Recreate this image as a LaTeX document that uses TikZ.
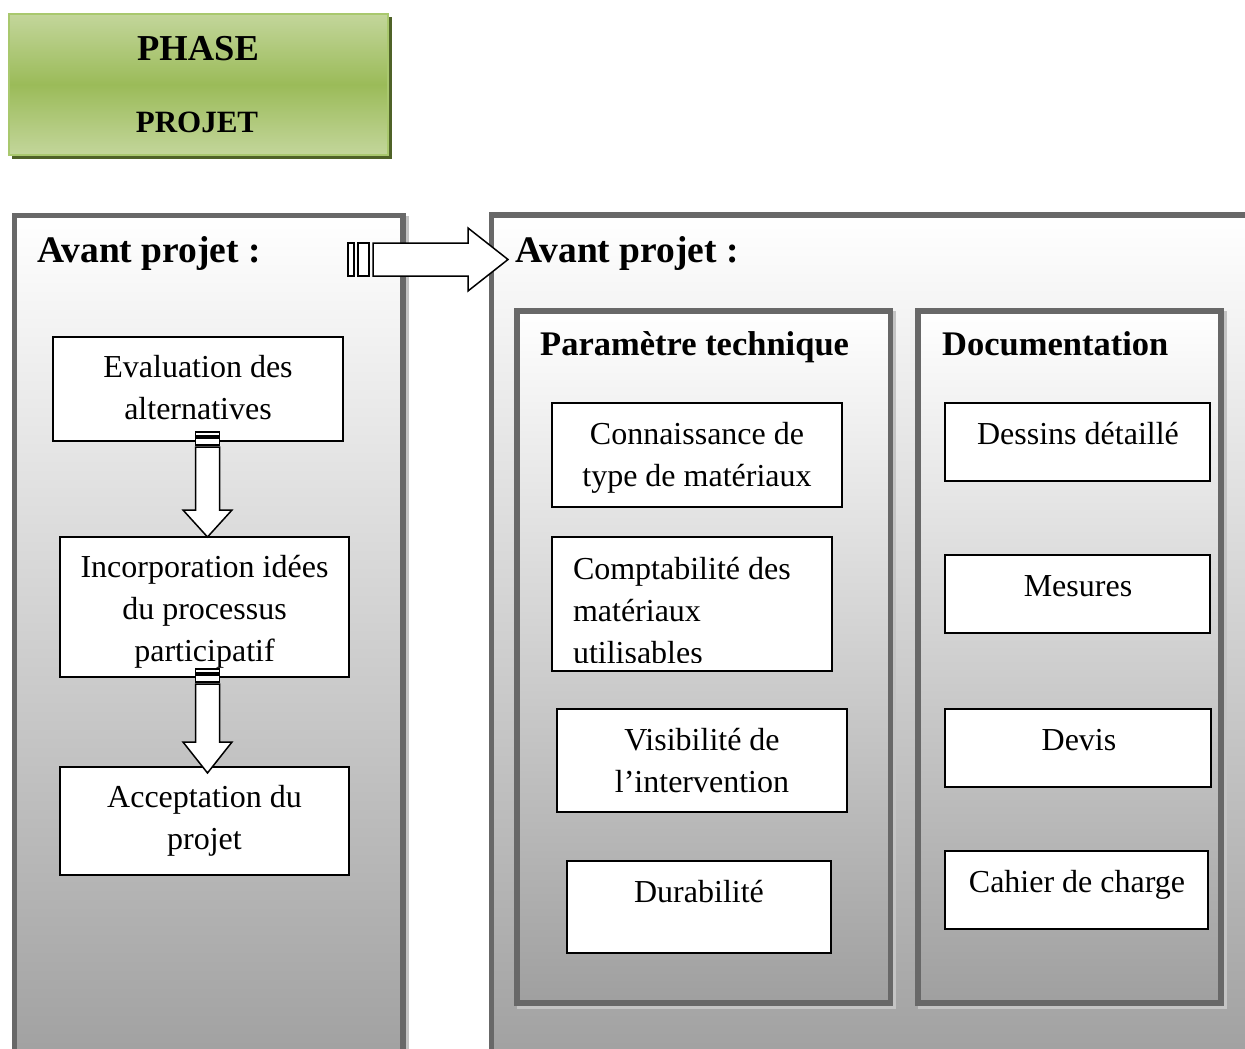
\documentclass[tikz,border=0pt]{standalone}
\usepackage{fontspec}
\setmainfont{Liberation Serif}
\usetikzlibrary{calc}
\newcommand\bodyfnt{\fontsize{32}{42}\selectfont}
\newcommand\headfnt{\fontsize{37.5}{44}\selectfont\bfseries}
\newcommand\phasefnt{\fontsize{36.5}{44}\selectfont\bfseries}
\newcommand\subfnt{\fontsize{34.5}{42}\selectfont\bfseries}
\definecolor{panelborder}{HTML}{686868}
\definecolor{panelshadow}{HTML}{C4C4C4}
\definecolor{greentop}{HTML}{C3D69B}
\definecolor{greenmid}{HTML}{9BBB59}
\definecolor{greenline}{HTML}{A9C86E}
\definecolor{greenshadow}{HTML}{4F6228}
\tikzset{
  boxnode/.style={draw=black, fill=white, line width=1.8pt, inner sep=0pt, outer sep=0pt},
  txt/.style={inner sep=0pt, outer sep=0pt, font=\bodyfnt, align=center},
  blockarrow/.style={draw=black, fill=white, line width=1.5pt, line join=miter},
  stripe/.style={draw=black, fill=white, line width=1.1pt},
  panelline/.style={draw=panelborder, line width=5.5pt},
  panelshade/.style={top color=white, bottom color=gray!75},
  panelshad/.style={draw=panelshadow, line width=5.5pt}
}
\newcommand\vstrarrow[3]{%
  \draw[stripe] ($(#1)+(-12,0)$) rectangle ($(#1)+(12,4)$);
  \draw[stripe] ($(#1)+(-12,6)$) rectangle ($(#1)+(12,13)$);
  \draw[blockarrow] ($(#1)+(-12,15)$) -- ($(#2)+(-12,-#3)$) -- ($(#2)+(-24.5,-#3)$) -- (#2)
     -- ($(#2)+(24.5,-#3)$) -- ($(#2)+(12,-#3)$) -- ($(#1)+(12,15)$) -- cycle;}
\begin{document}
\begin{tikzpicture}[x=1pt,y=-1pt]
\useasboundingbox (0,0) rectangle (1245,1049);
\clip (0,0) rectangle (1245,1049);
\fill[white] (0,0) rectangle (1245,1049);

% green title box
\fill[greenshadow] (12,17) rectangle (391.5,158.5);
\shade[top color=greentop, bottom color=greentop, middle color=greenmid] (9,14) rectangle (388,155);
\draw[greenline, line width=2pt] (9,14) rectangle (388,155);
\node[inner sep=0pt, anchor=base, font=\phasefnt] (phase) at (198,61) {PHASE};
\node[inner sep=0pt, anchor=base, font=\fontsize{31}{38}\selectfont\bfseries] (projet) at (197,132) {PROJET};

% outer panels
\draw[panelshad] (17.5,218.5) rectangle (406,1080);
\shade[panelshade] (14.5,215.5) rectangle (403,1070);
\draw[panelline] (14.5,215.5) rectangle (403,1070);
\draw[panelshad] (494.5,218) rectangle (1310,1080);
\shade[panelshade] (491.5,215) rectangle (1300,1070);
\draw[panelline] (491.5,215) rectangle (1300,1070);

% inner panels
\draw[panelshad] (520,314) rectangle (893.5,1006);
\shade[panelshade] (517,311) rectangle (890.5,1003);
\draw[panelline] (517,311) rectangle (890.5,1003);
\draw[panelshad] (921,314) rectangle (1224,1006);
\shade[panelshade] (918,311) rectangle (1221,1003);
\draw[panelline] (918,311) rectangle (1221,1003);

% headings
\node[inner sep=0pt, anchor=base west, font=\headfnt] (hleft) at (37,262) {Avant projet :};
\node[inner sep=0pt, anchor=base west, font=\headfnt] (hright) at (515,262) {Avant projet :};
\node[inner sep=0pt, anchor=base west, font=\subfnt] (hparam) at (540,355) {Paramètre technique};
\node[inner sep=0pt, anchor=base west, font=\subfnt] (hdoc) at (942,355) {Documentation};

% boxes left
\node[boxnode, minimum width=290, minimum height=104] (eval) at (198,389) {};
\node[boxnode, minimum width=289, minimum height=140] (inc) at (204.5,607) {};
\node[boxnode, minimum width=289, minimum height=108] (acc) at (204.5,821) {};
% boxes parametre
\node[boxnode, minimum width=290, minimum height=104] (conn) at (697,455) {};
\node[boxnode, minimum width=280, minimum height=134] (comp) at (692,604) {};
\node[boxnode, minimum width=290, minimum height=103] (vis) at (702,760.5) {};
\node[boxnode, minimum width=264, minimum height=92] (dur) at (699,907) {};
% boxes documentation
\node[boxnode, minimum width=265, minimum height=78] (dess) at (1077.5,442) {};
\node[boxnode, minimum width=265, minimum height=78] (mes) at (1077.5,594) {};
\node[boxnode, minimum width=266, minimum height=78] (devis) at (1078,748) {};
\node[boxnode, minimum width=263, minimum height=78] (cahier) at (1076.5,890) {};

% texts
\node[txt, anchor=north] (evalt) at (198,347.6) {\strut Evaluation des\\alternatives};
\node[txt, anchor=north] (inct) at (204.5,547.6) {\strut Incorporation idées\\du processus\\participatif};
\node[txt, anchor=north] (acct) at (204.5,777.6) {\strut Acceptation du\\projet};
\node[txt, anchor=north] (connt) at (697,414.6) {\strut Connaissance de\\type de matériaux};
\begin{scope}
\clip (552,537) rectangle (832,662.5);
\node[txt, align=left, anchor=north west] (compt) at (573,549.6) {\strut Comptabilité des\\matériaux\\utilisables};
\end{scope}
\node[txt, anchor=north] (vist) at (702,720.6) {\strut Visibilité de\\l’intervention};
\node[txt, anchor=base] (durt) at (699,902) {Durabilité};
\node[txt, anchor=base] (desst) at (1078,444) {Dessins détaillé};
\node[txt, anchor=base] (mest) at (1078,596) {Mesures};
\node[txt, anchor=base] (devist) at (1079,750) {Devis};
\node[txt, anchor=base] (cahiert) at (1077,892) {Cahier de charge};

% striped arrows (connectors)
\coordinate (v1s) at ($(eval.south)+(9.5,-9)$);
\coordinate (v1t) at ($(inc.north)+(3,0)$);
\vstrarrow{v1s}{v1t}{27}
\coordinate (v2s) at ($(inc.south)+(3,-8)$);
\coordinate (v2t) at ($(acc.north)+(3,6)$);
\vstrarrow{v2s}{v2t}{31}

\coordinate (hs) at (348,259.5);
\coordinate (ht) at (508,259.5);
\draw[stripe] ($(hs)+(0,-16.5)$) rectangle ($(hs)+(6,16.5)$);
\draw[stripe] ($(hs)+(10,-16.5)$) rectangle ($(hs)+(21,16.5)$);
\draw[blockarrow] ($(hs)+(25,-16.5)$) -- ($(ht)+(-40,-16.5)$) -- ($(ht)+(-40,-31.5)$) -- (ht)
   -- ($(ht)+(-40,31.5)$) -- ($(ht)+(-40,16.5)$) -- ($(hs)+(25,16.5)$) -- cycle;
\end{tikzpicture}
\end{document}
